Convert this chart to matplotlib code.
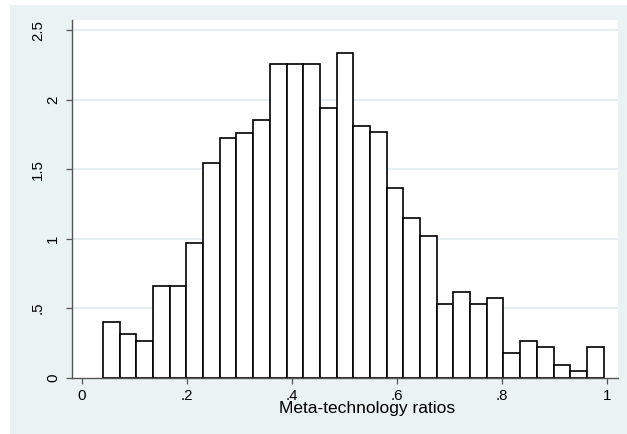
import matplotlib
matplotlib.use("Agg")
import matplotlib.pyplot as plt
from matplotlib.patches import Rectangle
import matplotlib.transforms as mtransforms

# ---- data ----
bin_start = 0.04
bin_width = 0.0318
density = [0.399, 0.312, 0.264, 0.662, 0.662, 0.971, 1.545, 1.722, 1.763, 1.856,
           2.255, 2.255, 2.255, 1.942, 2.338, 1.811, 1.765, 1.367, 1.149, 1.017,
           0.530, 0.619, 0.530, 0.576, 0.180, 0.266, 0.221, 0.089, 0.048, 0.221]
x_ticks = [0, 0.2, 0.4, 0.6, 0.8, 1.0]
x_tick_labels = ["0", ".2", ".4", ".6", ".8", "1"]
y_ticks = [0, 0.5, 1.0, 1.5, 2.0, 2.5]
y_tick_labels = ["0", ".5", "1", "1.5", "2", "2.5"]
x_title = "Meta-technology ratios"

W, H = 627, 434
BG = "#EAF2F3"
GRID = "#E6EEF0"
AXC = "#555555"

plt.rcParams['font.family'] = ['Liberation Sans', 'DejaVu Sans']

fig = plt.figure(figsize=(W / 100, H / 100), dpi=100, facecolor="white")
bg = Rectangle((10 / W, 0), 1 - 10 / W, 1 - 5 / H,
               transform=fig.transFigure, facecolor=BG,
               edgecolor="none", zorder=-10)
fig.add_artist(bg)

left, right, top, bottom = 72, 618, 20, 377.7
ax = fig.add_axes([left / W, 1 - bottom / H, (right - left) / W, (bottom - top) / H])
ax.set_zorder(1)
ax.set_facecolor("white")

lefts = [bin_start + i * bin_width for i in range(len(density))]
ax.bar(lefts, density, width=bin_width, align="edge", facecolor="white",
       edgecolor="black", linewidth=1.2, zorder=3)

ax.set_xlim(-0.019, 1.0215)
ax.set_ylim(0, 2.573)

for s in ["top", "right"]:
    ax.spines[s].set_visible(False)
for s in ["left", "bottom"]:
    ax.spines[s].set_color(AXC)
    ax.spines[s].set_linewidth(1.0)
    ax.spines[s].set_zorder(4)

ax.set_yticks(y_ticks)
ax.set_yticklabels([""] * len(y_ticks))
for yv in y_ticks[1:]:
    ax.axhline(yv, color=GRID, linewidth=1.5, zorder=1)

ax.set_xticks(x_ticks)
ax.set_xticklabels(x_tick_labels, fontsize=10.8)
ax.tick_params(axis="both", direction="out", length=4.5, width=0.9, color=AXC)
ax.tick_params(axis="x", pad=3.5)

# rotated y tick labels (Stata-style placement)
trans = mtransforms.blended_transform_factory(fig.transFigure, ax.transData)
for yv, lab in zip(y_ticks, y_tick_labels):
    xc = 38 if "." in lab else 53
    ax.text(xc / W, yv, lab, transform=trans, rotation=90, ha="center",
            va="center", fontsize=10.8, color="black", clip_on=False)

ax.set_xlabel(x_title, fontsize=12.5)
ax.xaxis.set_label_coords((367.5 - left) / (right - left), -(413 - bottom) / (bottom - top))
ax.xaxis.label.set_va("baseline")

fig.savefig("out.png", dpi=100, facecolor="white")
